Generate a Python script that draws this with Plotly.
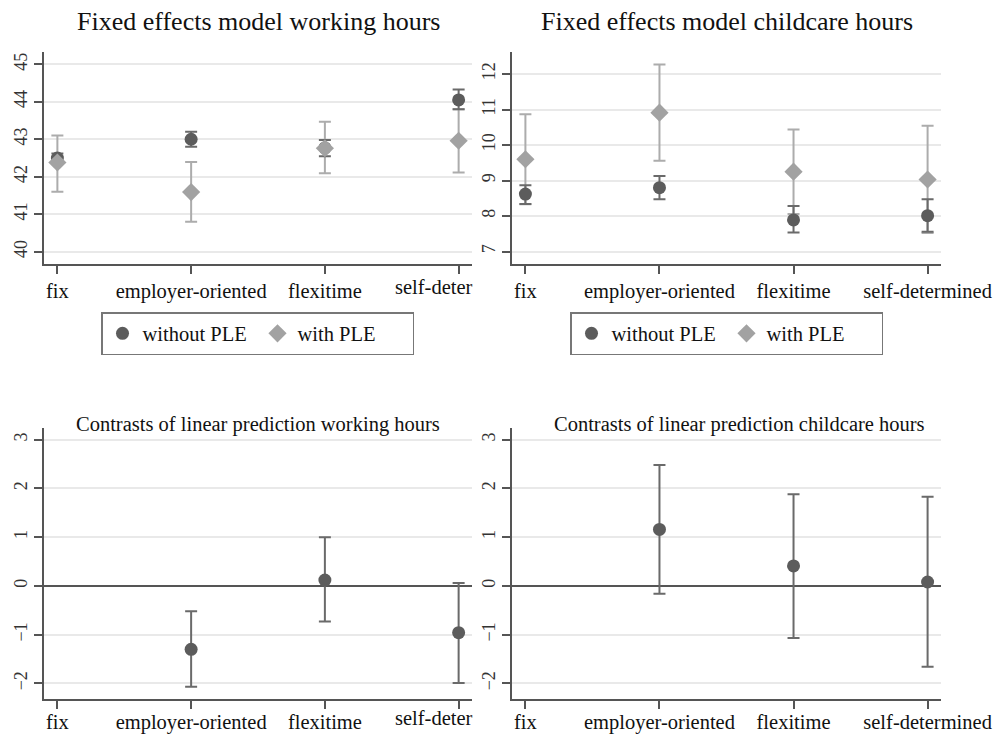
import plotly.graph_objects as go

# ---------------- data ----------------
categories = ["fix", "employer-oriented", "flexitime", "self-determined"]
left_last_label = "self-deter"   # label is cut off at the right edge of the left column

series_names = ["without PLE", "with PLE"]

# Fixed effects model working hours
work_without = [42.50, 43.00, 42.77, 44.05]
work_without_lo = [42.38, 42.80, 42.55, 43.80]
work_without_hi = [42.62, 43.20, 42.98, 44.33]
work_with = [42.38, 41.59, 42.76, 42.96]
work_with_lo = [41.60, 40.80, 42.09, 42.11]
work_with_hi = [43.10, 42.39, 43.47, 43.80]

# Fixed effects model childcare hours
care_without = [8.62, 8.80, 7.89, 8.01]
care_without_lo = [8.34, 8.47, 7.54, 7.56]
care_without_hi = [8.87, 9.13, 8.28, 8.47]
care_with = [9.60, 10.91, 9.25, 9.03]
care_with_lo = [8.33, 9.56, 8.06, 7.52]
care_with_hi = [10.87, 12.27, 10.44, 10.54]

# Contrasts of linear prediction (reference: fix)
contrast_categories = ["employer-oriented", "flexitime", "self-determined"]
work_contrast = [-1.30, 0.12, -0.96]
work_contrast_lo = [-2.07, -0.73, -1.99]
work_contrast_hi = [-0.52, 1.00, 0.06]
care_contrast = [1.16, 0.41, 0.08]
care_contrast_lo = [-0.16, -1.07, -1.66]
care_contrast_hi = [2.48, 1.88, 1.83]

titles = ["Fixed effects model working hours", "Fixed effects model childcare hours",
          "Contrasts of linear prediction working hours", "Contrasts of linear prediction childcare hours"]

# ---------------- style ----------------
W, H = 996, 735
FONT = "Liberation Serif"
DARK = "#5c5c5c"
DARK_CI = "#6a6a6a"
GRAY = "#a2a2a2"
GRAY_CI = "#acacac"
AXIS = "#555555"
GRID = "#e9e9e9"
LBL = 20.5

def px_x(a, b):
    return [a / W, b / W]

def px_y(top, bottom):
    return [(H - bottom) / H, (H - top) / H]

dom = {
    1: (px_x(44, 472), px_y(52, 264)),
    2: (px_x(512, 941), px_y(52, 264)),
    3: (px_x(44, 472), px_y(428, 699)),
    4: (px_x(512, 941), px_y(428, 699)),
}

fig = go.Figure()

def axn(ax, letter):
    return letter + ("" if ax == 1 else str(ax))

def err(vals, lo, hi):
    return [h - v for v, h in zip(vals, hi)], [v - l for v, l in zip(vals, lo)]

def ci_trace(xs, vals, lo, hi, color, ax):
    plus, minus = err(vals, lo, hi)
    return go.Scatter(x=xs, y=vals, mode="markers",
                      marker=dict(size=1, color="rgba(0,0,0,0)"),
                      error_y=dict(type="data", array=plus, arrayminus=minus, symmetric=False,
                                   color=color, thickness=2, width=6),
                      xaxis=axn(ax, "x"), yaxis=axn(ax, "y"),
                      showlegend=False, hoverinfo="skip")

def pt_trace(xs, vals, color, symbol, size, ax, name=None, legend=None, rank=None):
    return go.Scatter(x=xs, y=vals, mode="markers", name=name,
                      marker=dict(size=size, color=color, symbol=symbol, line=dict(width=0)),
                      xaxis=axn(ax, "x"), yaxis=axn(ax, "y"),
                      showlegend=name is not None, legend=legend, legendrank=rank)

CIRCLE, DIAMOND = 13, 14
# top-left
fig.add_trace(ci_trace(categories, work_with, work_with_lo, work_with_hi, GRAY_CI, 1))
fig.add_trace(ci_trace(categories, work_without, work_without_lo, work_without_hi, DARK_CI, 1))
fig.add_trace(pt_trace(categories, work_without, DARK, "circle", CIRCLE, 1, series_names[0], "legend", 1))
fig.add_trace(pt_trace(categories, work_with, GRAY, "diamond", DIAMOND, 1, series_names[1], "legend", 2))
# top-right
fig.add_trace(ci_trace(categories, care_with, care_with_lo, care_with_hi, GRAY_CI, 2))
fig.add_trace(ci_trace(categories, care_without, care_without_lo, care_without_hi, DARK_CI, 2))
fig.add_trace(pt_trace(categories, care_without, DARK, "circle", CIRCLE, 2, series_names[0], "legend2", 1))
fig.add_trace(pt_trace(categories, care_with, GRAY, "diamond", DIAMOND, 2, series_names[1], "legend2", 2))
# bottom
fig.add_trace(ci_trace(contrast_categories, work_contrast, work_contrast_lo, work_contrast_hi, DARK_CI, 3))
fig.add_trace(pt_trace(contrast_categories, work_contrast, DARK, "circle", CIRCLE, 3))
fig.add_trace(ci_trace(contrast_categories, care_contrast, care_contrast_lo, care_contrast_hi, DARK_CI, 4))
fig.add_trace(pt_trace(contrast_categories, care_contrast, DARK, "circle", CIRCLE, 4))

yranges = {1: [39.67, 45.33], 2: [6.65, 12.62], 3: [-2.32, 3.24], 4: [-2.32, 3.24]}

layout = dict(width=W, height=H, margin=dict(l=0, r=0, t=0, b=0, autoexpand=False),
              paper_bgcolor="white", plot_bgcolor="white",
              font=dict(family=FONT, color="#111111"))

for i in range(1, 5):
    xd, yd = dom[i]
    sfx = "" if i == 1 else str(i)
    left_col = i in (1, 3)
    bottom_row = i >= 3
    ticktext = categories[:3] + ([""] if left_col else [categories[3]])
    layout["xaxis" + sfx] = dict(
        domain=xd, anchor="y" + sfx, type="category", automargin=False,
        categoryorder="array", categoryarray=categories,
        tickvals=categories, ticktext=ticktext,
        range=[-0.1, 3.1], showline=True, linecolor=AXIS, linewidth=1.5,
        ticks="outside", ticklen=8, tickwidth=1.5, tickcolor=AXIS,
        ticklabelstandoff=-4 if bottom_row else 0,
        showgrid=False, zeroline=False,
        tickfont=dict(family=FONT, size=LBL, color="#111111"), fixedrange=True)
    layout["yaxis" + sfx] = dict(
        domain=yd, anchor="x" + sfx, range=yranges[i], dtick=1, automargin=False,
        showline=True, linecolor=AXIS, linewidth=1.5,
        ticks="outside", ticklen=8, tickwidth=1.5, tickcolor=AXIS,
        showgrid=True, gridcolor=GRID, gridwidth=1.5,
        zeroline=bottom_row, zerolinecolor=AXIS, zerolinewidth=2,
        tickangle=-90, tickfont=dict(family=FONT, size=18, color="#333333"), fixedrange=True)

annotations = []
# clipped last category label of left column
for i in (1, 3):
    xd, yd = dom[i]
    annotations.append(dict(xref="paper", yref="paper", x=xd[1], y=yd[0], xanchor="right", yanchor="top",
                            xshift=3, yshift=-10 if i == 1 else -6, text=left_last_label, showarrow=False,
                            font=dict(family=FONT, size=LBL, color="#111111")))
# panel titles
title_shift = {1: 0, 2: 0, 3: 0, 4: 13}
for i, t in zip(range(1, 5), titles):
    xd, yd = dom[i]
    big = i <= 2
    annotations.append(dict(xref="paper", yref="paper", x=(xd[0] + xd[1]) / 2, xshift=title_shift[i],
                            y=yd[1], yanchor="bottom" if big else "middle", xanchor="center",
                            yshift=14 if big else 4, text=t, showarrow=False,
                            font=dict(family=FONT, size=26 if big else LBL, color="#111111")))
layout["annotations"] = annotations

leg_common = dict(orientation="h", bgcolor="white", bordercolor="#777777", borderwidth=1.5,
                  font=dict(family=FONT, size=LBL, color="#111111"), entrywidth=110,
                  xanchor="center", yanchor="top")
layout["legend"] = dict(leg_common, x=(108 + 407) / 2 / W, y=(H - 312) / H)
layout["legend2"] = dict(leg_common, x=(577 + 876) / 2 / W, y=(H - 312) / H)
layout["showlegend"] = True

fig.update_layout(**layout)
fig.write_html("out.html", config={"displayModeBar": False},
               post_script="document.body.style.margin='0px';document.body.style.overflow='hidden';")
